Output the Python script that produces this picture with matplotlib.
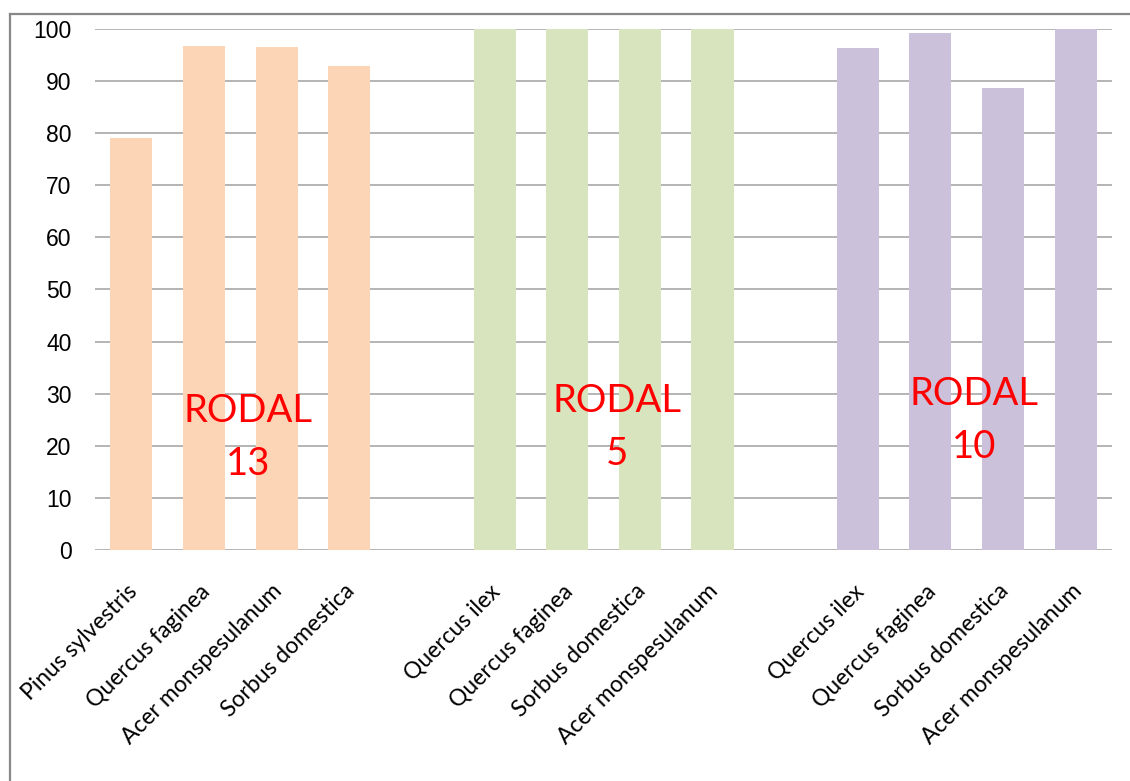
import matplotlib.pyplot as plt
from matplotlib.lines import Line2D
from matplotlib.transforms import ScaledTranslation

# datos por rodal
rodal13_species = ['Pinus sylvestris', 'Quercus faginea', 'Acer monspesulanum', 'Sorbus domestica']
rodal13_values = [79.0, 96.8, 96.5, 92.8]
rodal5_species = ['Quercus ilex', 'Quercus faginea', 'Sorbus domestica', 'Acer monspesulanum']
rodal5_values = [100, 100, 100, 100]
rodal10_species = ['Quercus ilex', 'Quercus faginea', 'Sorbus domestica', 'Acer monspesulanum']
rodal10_values = [96.3, 99.2, 88.7, 100]
yticks = [0, 10, 20, 30, 40, 50, 60, 70, 80, 90, 100]

colors = ['#FBD5B5', '#D7E4BD', '#CCC1DA']

fig = plt.figure(figsize=(11.3, 7.81), dpi=100)
ax = fig.add_axes([0.0841, 0.2958, 0.9, 0.6671])

# grupos separados por una categoría vacía
groups = [(rodal13_species, rodal13_values), (rodal5_species, rodal5_values), (rodal10_species, rodal10_values)]
labels = []
positions = []
pos = 0
for i, (sp, vals) in enumerate(groups):
    xs = list(range(pos, pos + len(sp)))
    ax.bar(xs, vals, width=0.58, color=colors[i], zorder=2)
    positions += xs
    labels += sp
    pos += len(sp) + 1

ax.set_xlim(-0.5, 13.5)
ax.set_ylim(0, 100)
ax.set_yticks(yticks)
ax.set_xticks(positions)
ax.set_xticklabels(labels, rotation=45, ha='right', rotation_mode='anchor',
                   fontsize=16.5, family='Lato', color='black')
ax.tick_params(axis='x', length=0, pad=22)
ax.tick_params(axis='y', length=0, pad=17, labelsize=16.5)
for t in ax.get_yticklabels():
    t.set_family('Liberation Sans')
shift = ScaledTranslation(-5 / 100, 0, fig.dpi_scale_trans)
for t in ax.get_xticklabels():
    t.set_transform(t.get_transform() + shift)

ax.yaxis.grid(True, color='#A0A0A0', linewidth=1.1, zorder=0)
for s in ax.spines.values():
    s.set_visible(False)

# textos RODAL
ax.text(1.6, 21.6, 'RODAL\n13', color='red', fontsize=27.5, ha='center', va='center',
        family='Lato', linespacing=1.6)
ax.text(6.69, 23.5, 'RODAL\n5', color='red', fontsize=27.5, ha='center', va='center',
        family='Lato', linespacing=1.6)
ax.text(11.6, 24.9, 'RODAL\n10', color='red', fontsize=27.5, ha='center', va='center',
        family='Lato', linespacing=1.6)

# marco del gráfico
fig.add_artist(Line2D([0.009, 0.009], [0, 0.982], color='#888888', linewidth=1.6,
                      transform=fig.transFigure))
fig.add_artist(Line2D([0.009, 1.0], [0.982, 0.982], color='#888888', linewidth=1.6,
                      transform=fig.transFigure))

fig.savefig('out.png', dpi=100)
